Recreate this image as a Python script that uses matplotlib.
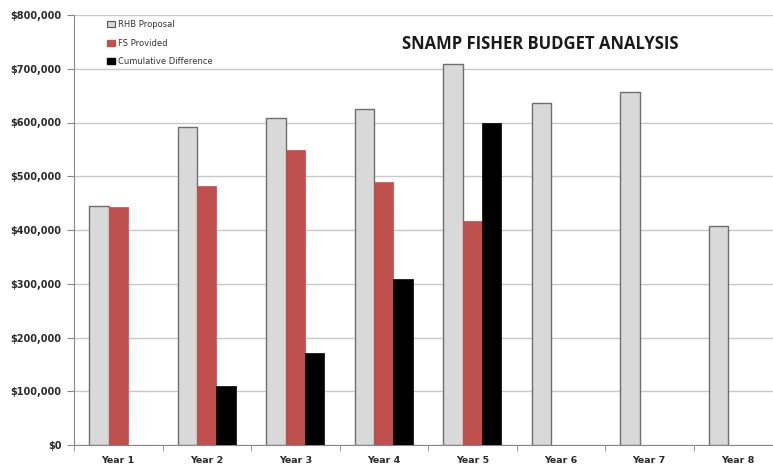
import matplotlib
matplotlib.use("Agg")
import matplotlib.pyplot as plt
from matplotlib.patches import Patch
from matplotlib.ticker import FuncFormatter, MultipleLocator
import numpy as np

categories = ["Year 1", "Year 2", "Year 3", "Year 4", "Year 5", "Year 6", "Year 7", "Year 8"]
rhb_proposal = [445000, 592000, 609000, 626000, 709000, 636000, 656000, 407000]
fs_provided = [443000, 482000, 549000, 489000, 417000, 0, 0, 0]
cumulative_diff = [0, 110000, 171000, 308000, 599000, 0, 0, 0]
series_names = ["RHB Proposal", "FS Provided", "Cumulative Difference"]
title = "SNAMP FISHER BUDGET ANALYSIS"

fig = plt.figure(figsize=(7.73, 4.68), dpi=100)
ax = fig.add_axes([74 / 773, 23 / 468, 708 / 773, 430 / 468])

x = np.arange(len(categories))
w = 0.22
ax.bar(x - w, rhb_proposal, w, color="#D9D9D9", edgecolor="#6E6E6E", linewidth=1.0, zorder=3)
ax.bar(x, fs_provided, w, color="#C0504D", edgecolor="#C0504D", linewidth=0.5, zorder=3)
ax.bar(x + w, cumulative_diff, w, color="#000000", edgecolor="#000000", linewidth=0.5, zorder=3)

ax.set_xlim(-0.5, len(categories) - 0.5)
ax.set_ylim(0, 800000)
ax.yaxis.set_major_locator(MultipleLocator(100000))
ax.yaxis.set_major_formatter(FuncFormatter(lambda v, p: f"${v:,.0f}"))
ax.grid(axis="y", color="#C8C8C8", linewidth=1.0, zorder=0)

ax.set_xticks(x)
ax.set_xticklabels(categories, fontsize=6.8, fontweight="bold", family="DejaVu Sans")
ax.set_xticks(np.arange(-0.5, len(categories), 1.0), minor=True)
ax.tick_params(axis="x", which="major", length=0, pad=8)
ax.tick_params(axis="x", which="minor", length=4, color="#888888")
ax.tick_params(axis="y", length=5, color="#888888", labelsize=7, pad=4)
for lab in ax.get_yticklabels():
    lab.set_fontweight("bold")
    lab.set_color("#2a2a2a")
for lab in ax.get_xticklabels():
    lab.set_color("#2a2a2a")

for side in ["top", "right"]:
    ax.spines[side].set_visible(False)
ax.spines["left"].set_color("#888888")
ax.spines["bottom"].set_color("#888888")

fig.text(540 / 773, 1 - 44 / 468, title, ha="center", va="center",
         fontsize=12, fontweight="bold", family="Open Sans", color="#1a1a1a")

handles = [Patch(facecolor="#D9D9D9", edgecolor="#555555", linewidth=0.8),
           Patch(facecolor="#C0504D", edgecolor="#C0504D"),
           Patch(facecolor="#000000", edgecolor="#000000")]
leg = ax.legend(handles, series_names, loc="upper left",
                bbox_to_anchor=(104 / 773, 1 - 17 / 468), bbox_transform=fig.transFigure,
                frameon=False, fontsize=6, handlelength=0.9, handleheight=0.7,
                handletextpad=0.4, labelspacing=1.1, borderaxespad=0)
for t in leg.get_texts():
    t.set_color("#333333")

fig.savefig("out.png", dpi=100)
